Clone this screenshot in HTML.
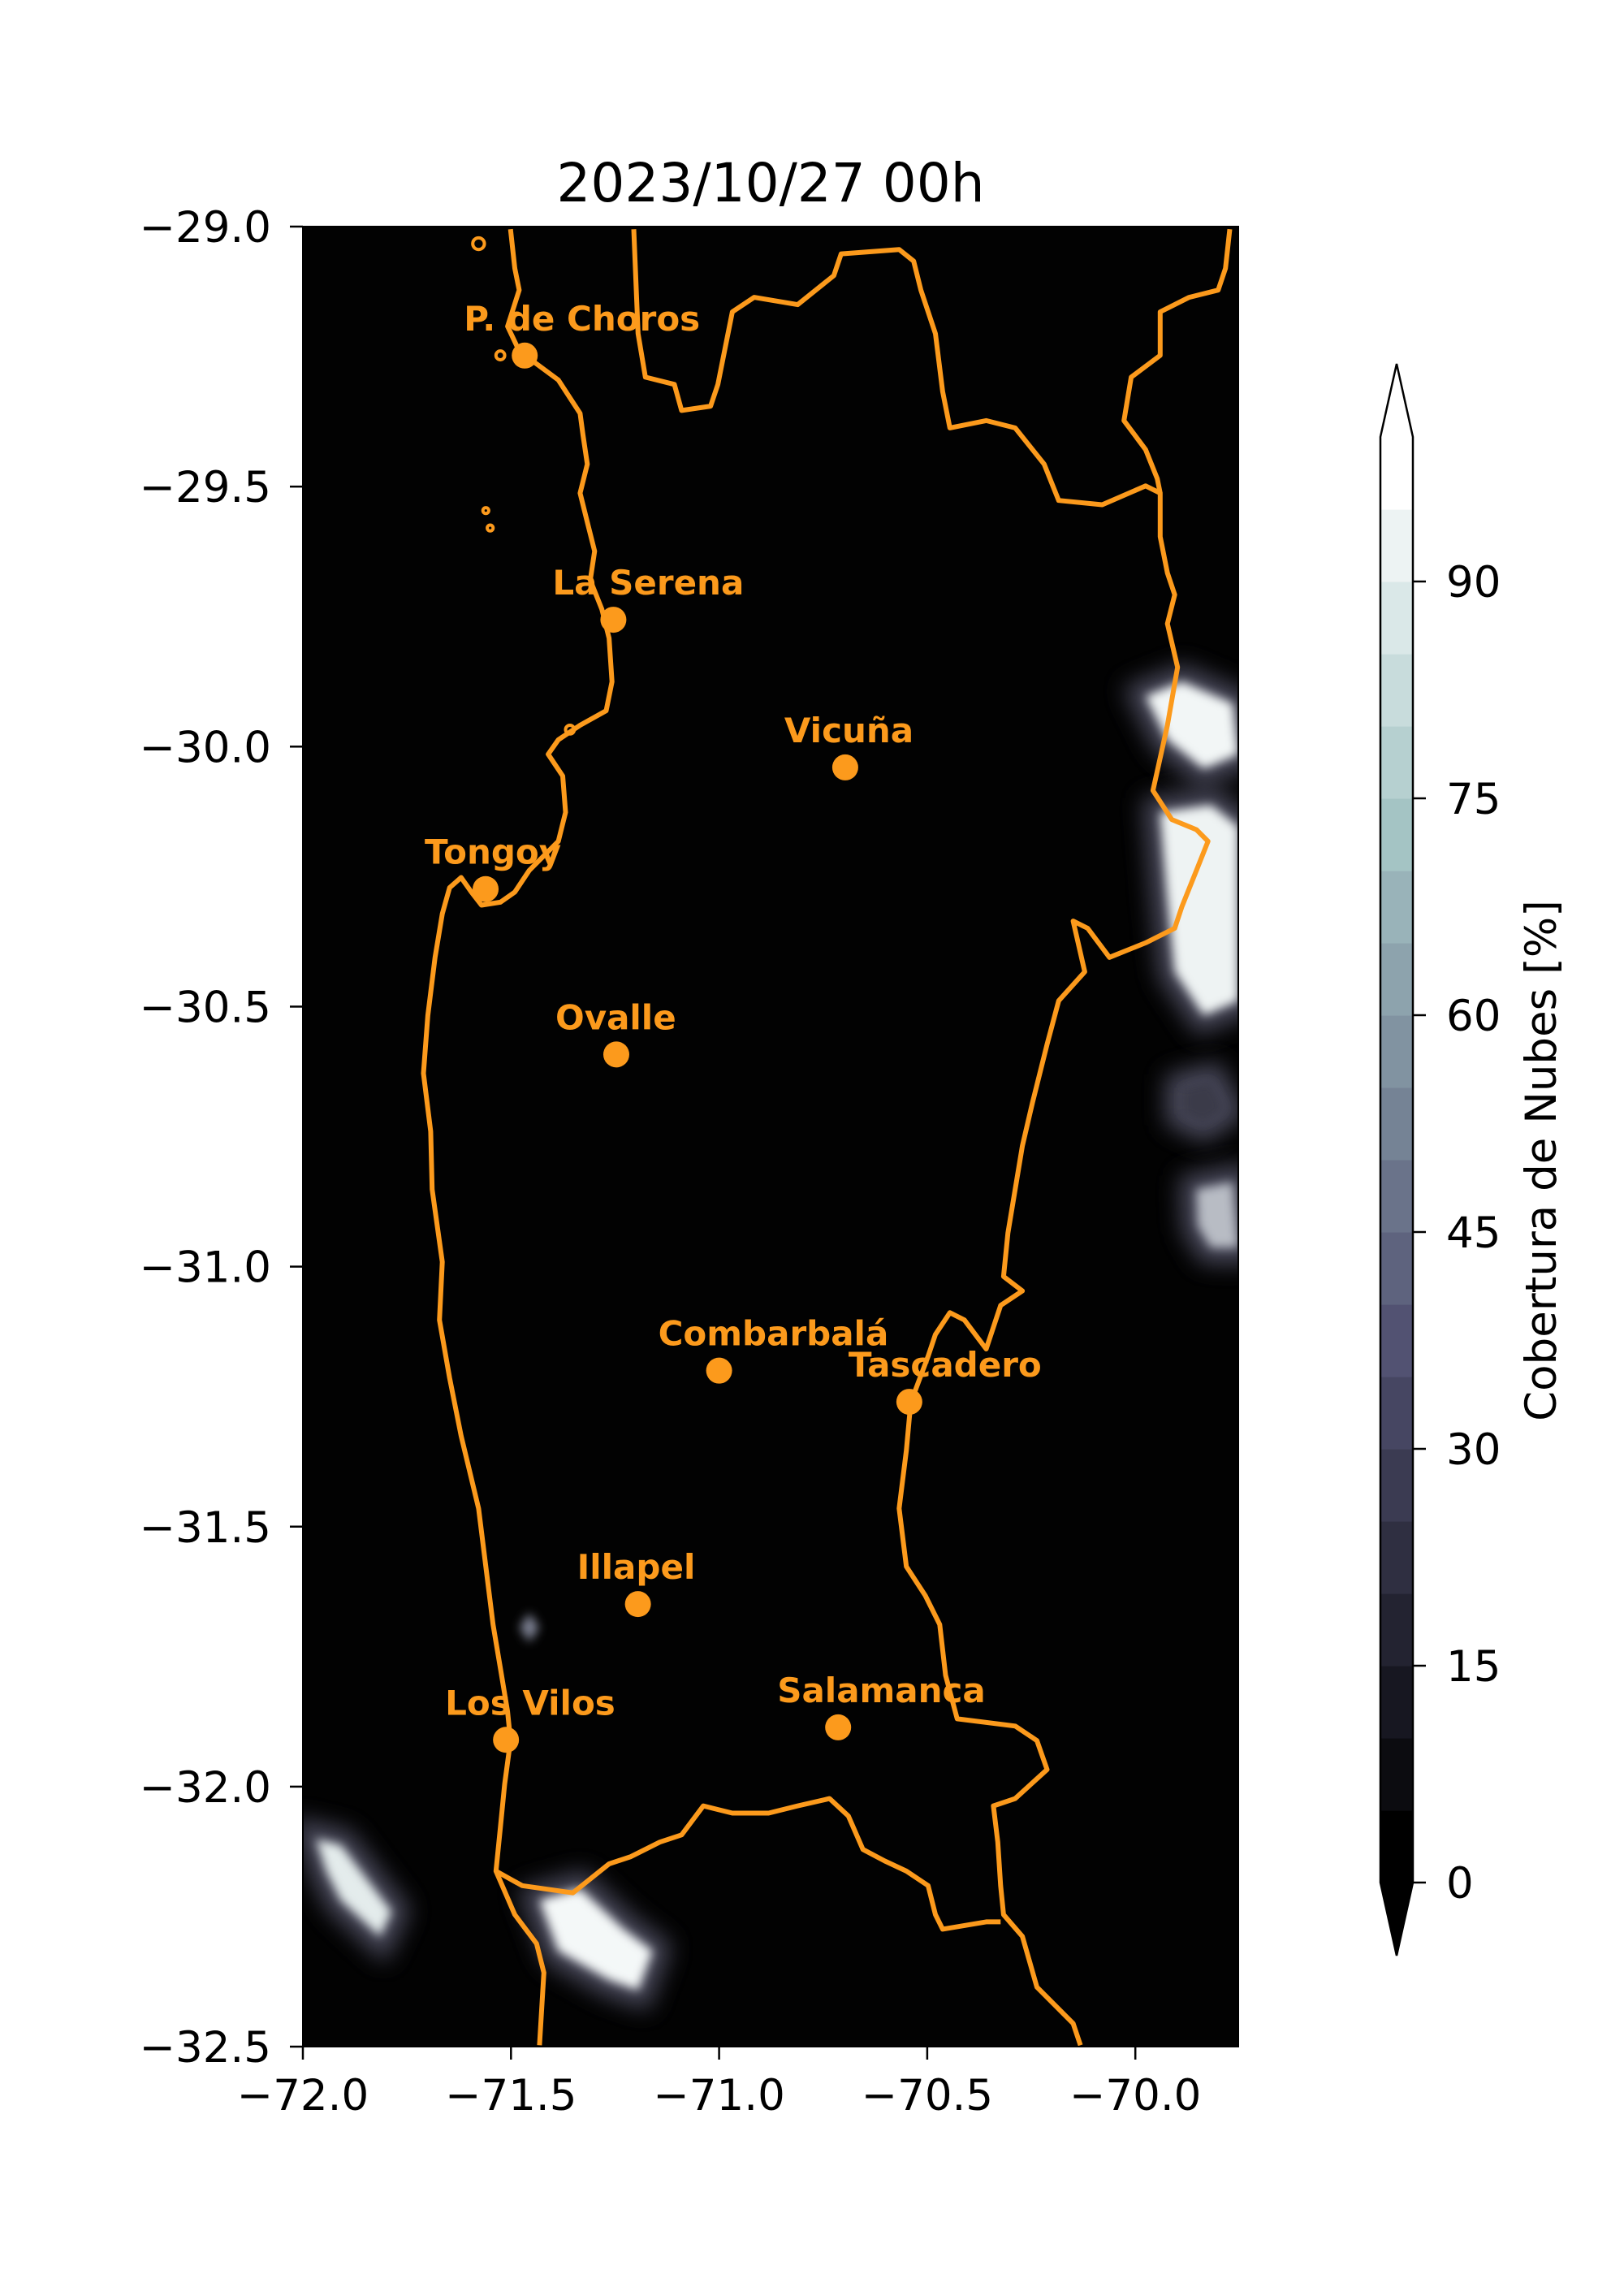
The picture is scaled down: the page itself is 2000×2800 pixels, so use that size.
<!DOCTYPE html>
<html><head><meta charset="utf-8"><title>Cobertura de Nubes</title>
<style>
html,body{margin:0;padding:0;background:#fff;}
svg{display:block;font-family:"DejaVu Sans","Liberation Sans",sans-serif;}
</style></head>
<body>
<svg id="fig" xmlns="http://www.w3.org/2000/svg" width="2000" height="2800" viewBox="0 0 2000 2800">
<defs>
<clipPath id="axclip"><rect x="373" y="279" width="1152" height="2241"/></clipPath>
<filter id="blur" filterUnits="userSpaceOnUse" x="0" y="0" width="2000" height="2800"><feGaussianBlur stdDeviation="14"/></filter>
<filter id="blur2" filterUnits="userSpaceOnUse" x="0" y="0" width="2000" height="2800"><feGaussianBlur stdDeviation="6"/></filter>
</defs>
<text x="949" y="248" font-size="66" text-anchor="middle" fill="#000">2023/10/27 00h</text>
<rect x="373" y="279" width="1152" height="2241" fill="#020202"/>
<g id="clouds" clip-path="url(#axclip)"></g>
<g id="outlines" clip-path="url(#axclip)"></g>
<g id="stations"></g>
<g id="axes"></g>
<g id="cbar"></g>
</svg>
<script>
// ---- station data (lon, lat) ----
const stationNames = ["P. de Choros","La Serena","Vicuña","Tongoy","Ovalle","Combarbalá","Tascadero","Illapel","Los Vilos","Salamanca"];
const stationLon = [-71.467,-71.254,-70.697,-71.561,-71.247,-71.000,-70.543,-71.195,-71.512,-70.714];
const stationLat = [-29.248,-29.756,-30.040,-30.274,-30.592,-31.200,-31.260,-31.649,-31.910,-31.886];
const xTicks = [-72.0,-71.5,-71.0,-70.5,-70.0];
const yTicks = [-29.0,-29.5,-30.0,-30.5,-31.0,-31.5,-32.0,-32.5];
const cbTicks = [0,15,30,45,60,75,90];
const cbLevels = [0,5,10,15,20,25,30,35,40,45,50,55,60,65,70,75,80,85,90,95,100];

const NS="http://www.w3.org/2000/svg";
const xS = lon => 373 + (lon + 72) * 512.6;
const yS = lat => 279 + (-29 - lat) * 640.3;
const cbY = v => 2318 - v * 17.8;
function mk(tag, attrs, parent){const e=document.createElementNS(NS,tag);for(const k in attrs)e.setAttribute(k,attrs[k]);parent.appendChild(e);return e;}
const ORANGE="#fc9a1c";

// digitized outlines (raster units of the source map, 1 unit = 1.786 px)
const coast = [[352,158],[355,185],[358,200],[350,225],[358,242],[385,262],[400,285],[402,300],[405,320],[400,340],[405,360],[410,380],[407,400],[415,420],[420,440],[422,470],[418,490],[400,500],[385,510],[378,520],[388,535],[390,560],[385,580],[365,600],[355,615],[345,622],[332,624],[325,615],[318,605],[310,612],[305,630],[300,660],[295,700],[292,740],[297,780],[298,820],[305,870],[303,910],[310,950],[318,990],[330,1040],[335,1080],[340,1120],[345,1150],[350,1180],[352,1200],[348,1230],[345,1260],[342,1290],[355,1320],[370,1340],[375,1360],[372,1410]];
const borderA = [[437,158],[440,230],[445,260],[465,265],[470,283],[490,280],[495,265],[500,240],[505,215],[520,205],[550,210],[575,190],[580,175],[620,172],[630,180],[635,200],[645,230],[650,270],[655,295],[680,290],[700,295],[720,320],[730,345],[760,348],[790,335],[800,340],[800,370],[805,395],[810,410],[805,430],[812,460],[805,500],[795,545],[808,565],[825,572],[833,580],[825,600],[815,625],[810,640],[790,650],[765,660],[750,640],[740,635],[748,670],[730,690],[722,720],[712,760],[705,790],[700,820],[695,850],[692,880],[705,890],[690,900],[680,930],[665,910],[655,905],[645,920],[640,935],[628,967],[625,1000],[620,1040],[625,1080],[638,1100],[648,1120],[652,1155],[660,1185],[700,1190],[715,1200],[722,1220],[700,1240],[685,1245],[688,1270],[690,1300],[692,1320],[705,1335],[715,1370],[740,1395],[745,1410]];
const borderB = [[848,158],[845,185],[840,200],[820,205],[800,215],[800,245],[780,260],[775,290],[790,310],[798,330],[800,340]];
const borderC = [[342,1290],[360,1300],[395,1305],[420,1285],[435,1280],[455,1270],[470,1265],[485,1245],[505,1250],[530,1250],[550,1245],[572,1240],[585,1252],[595,1275],[610,1283],[625,1290],[640,1300],[645,1320],[650,1330],[680,1325],[690,1325]];
const islands = [[330,168,4],[335,352,2],[338,364,2],[345,245,3],[393,503,3]];
const clouds = [
 {pts:[[790,480],[815,470],[850,485],[854,520],[830,530],[805,510]],c:"#f2f6f6"},
 {pts:[[800,560],[835,555],[854,570],[854,690],[830,700],[810,670],[805,620]],c:"#eef3f3"},
 {pts:[[815,750],[835,745],[845,765],[830,775],[815,768]],c:"#3a3a48"},
 {pts:[[825,820],[850,815],[854,860],[835,860],[826,845]],c:"#b8bcc4"},
 {pts:[[218,1268],[235,1272],[270,1318],[262,1335],[235,1310],[225,1290]],c:"#e4ecec"},
 {pts:[[372,1310],[400,1302],[430,1330],[450,1345],[440,1372],[420,1365],[385,1345]],c:"#f4f8f8"}
];
const toLon = u => -72 + (u*1.786 - 373)/512.6;
const toLat = v => -29 - (v*1.786 - 279)/640.3;
function pathOf(arr){return arr.map((p,i)=>(i?"L":"M")+xS(toLon(p[0])).toFixed(1)+" "+yS(toLat(p[1])).toFixed(1)).join(" ");}

const cl=document.getElementById("clouds");
clouds.forEach(c=>{
  const halo=mk("path",{d:pathOf(c.pts)+"Z",fill:"#5a5a70",stroke:"#5a5a70","stroke-width":40,filter:"url(#blur)",opacity:0.8},cl);
  
  
  const p=mk("path",{d:pathOf(c.pts)+"Z",fill:c.c,filter:"url(#blur2)"},cl);
  
  
});
const dia=mk("path",{d:"M"+xS(toLon(365))+" "+(yS(toLat(1112)))+" l12 18 l-12 18 l-12 -18 Z",fill:"#7f8395",filter:"url(#blur2)"},cl);



const ol=document.getElementById("outlines");
[[coast,'coastline'],[borderA,'region-border-east'],[borderB,'international-border'],[borderC,'region-border-south']].forEach(([a,n])=>{
  const p=mk("path",{d:pathOf(a),fill:"none",stroke:ORANGE,"stroke-width":6,"stroke-linejoin":"round"},ol);
  
  
});
islands.forEach(i=>{
  const c=mk("circle",{cx:xS(toLon(i[0])),cy:yS(toLat(i[1])),r:i[2]*1.8,fill:"none",stroke:ORANGE,"stroke-width":4},ol);
  
  
});

const st=document.getElementById("stations");
stationNames.forEach((n,i)=>{
  const x=xS(stationLon[i]), y=yS(stationLat[i]);
  const c=mk("circle",{cx:x,cy:y,r:16,fill:ORANGE},st);
  
  
  const t=mk("text",{x:x-75,y:y-31,"font-size":42,"font-weight":"bold",fill:ORANGE},st);
  t.textContent=n;
  
  
});

const ax=document.getElementById("axes");
const frame=mk("rect",{x:373,y:279,width:1152,height:2241,fill:"none",stroke:"#000","stroke-width":2},ax);


xTicks.forEach(v=>{
  const x=xS(v);
  const l=mk("line",{x1:x,x2:x,y1:2520,y2:2536,stroke:"#000","stroke-width":2.5},ax);
  
  
  const t=mk("text",{x:x,y:2598,"font-size":53,"text-anchor":"middle"},ax);
  t.textContent=v.toFixed(1).replace("-","\u2212");
  
  
});
yTicks.forEach(v=>{
  const y=yS(v);
  const l=mk("line",{x1:357,x2:373,y1:y,y2:y,stroke:"#000","stroke-width":2.5},ax);
  
  
  const t=mk("text",{x:334,y:y+19,"font-size":53,"text-anchor":"end"},ax);
  t.textContent=v.toFixed(1).replace("-","\u2212");
  
  
});

// colorbar (bone colormap)
function bone(t){
  const hr=Math.min(1,t/0.365), hg=Math.max(0,Math.min(1,(t-0.365)/0.381)), hb=Math.max(0,Math.min(1,(t-0.746)/0.254));
  const r=(7*t+hb)/8, g=(7*t+hg)/8, b=(7*t+hr)/8;
  return "rgb("+Math.round(r*255)+","+Math.round(g*255)+","+Math.round(b*255)+")";
}
const cb=document.getElementById("cbar");
const CX0=1700, CX1=1740;
for(let i=0;i<cbLevels.length-1;i++){
  const y0=cbY(cbLevels[i+1]), y1=cbY(cbLevels[i]);
  const r=mk("rect",{x:CX0,y:y0,width:CX1-CX0,height:y1-y0+0.6,fill:bone(i/(cbLevels.length-2))},cb);
  
  
}
const cbTop=cbY(100), cbBot=cbY(0);
const tt=mk("path",{d:`M${CX0} ${cbTop} L${(CX0+CX1)/2} ${cbTop-90} L${CX1} ${cbTop} Z`,fill:"#fff"},cb);


const bt=mk("path",{d:`M${CX0} ${cbBot} L${(CX0+CX1)/2} ${cbBot+90} L${CX1} ${cbBot} Z`,fill:"#000"},cb);


const ob=mk("path",{d:`M${CX0} ${cbTop} L${(CX0+CX1)/2} ${cbTop-90} L${CX1} ${cbTop} L${CX1} ${cbBot} L${(CX0+CX1)/2} ${cbBot+90} L${CX0} ${cbBot} Z`,fill:"none",stroke:"#000","stroke-width":2.5},cb);


cbTicks.forEach(v=>{
  const y=cbY(v);
  const l=mk("line",{x1:CX1,x2:CX1+16,y1:y,y2:y,stroke:"#000","stroke-width":2.5},cb);
  
  
  const t=mk("text",{x:1781,y:y+19,"font-size":53},cb);
  t.textContent=String(v);
  
  
});
const lab=mk("text",{x:0,y:0,"font-size":53,"text-anchor":"middle",transform:"translate(1916 1429) rotate(-90)"},cb);
lab.textContent="Cobertura de Nubes [%]";


</script>
</body></html>
